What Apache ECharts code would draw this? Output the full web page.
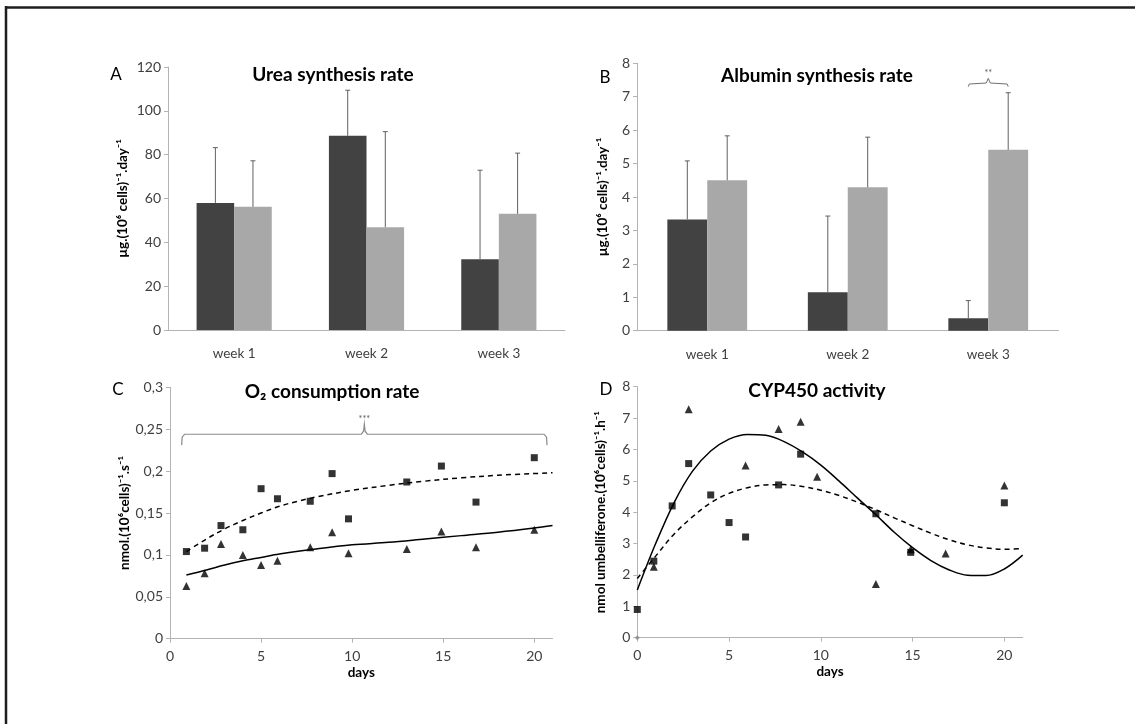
<!DOCTYPE html>
<html><head><meta charset="utf-8">
<script src="https://cdn.jsdelivr.net/npm/echarts@6/dist/echarts.min.js"></script>
<style>html,body{margin:0;padding:0;background:#fff}#c{width:1135px;height:724px}</style>
</head><body><div id="c"></div>
<script>
// ---------- data ----------
const weeks = ['week 1', 'week 2', 'week 3'];
// Urea (µg/10^6 cells/day)
const ureaDark = [58, 88.6, 32.3];
const ureaDarkSD = [25.2, 20.8, 40.6];
const ureaLight = [56.2, 46.9, 53];
const ureaLightSD = [21, 43.6, 27.7];
// Albumin
const albDark = [3.33, 1.15, 0.37];
const albDarkSD = [1.75, 2.28, 0.53];
const albLight = [4.5, 4.29, 5.41];
const albLightSD = [1.33, 1.5, 1.71];
// O2 consumption
const daysC = [0.9, 1.9, 2.8, 4, 5, 5.9, 7.7, 8.9, 9.8, 13, 14.9, 16.8, 20];
const o2Square = [0.104, 0.108, 0.135, 0.130, 0.179, 0.167, 0.164, 0.197, 0.143, 0.187, 0.206, 0.163, 0.216];
const o2Triangle = [0.063, 0.078, 0.113, 0.100, 0.088, 0.093, 0.109, 0.127, 0.102, 0.107, 0.128, 0.109, 0.130];
const o2FitDashedX = [0.9, 2, 3, 4, 5, 6, 7, 8, 10, 12, 14, 16, 18, 21];
const o2FitDashedY = [0.104, 0.119, 0.131, 0.141, 0.150, 0.158, 0.164, 0.169, 0.177, 0.183, 0.188, 0.192, 0.195, 0.198];
const o2FitSolidX = [0.9, 2, 3, 4, 5, 6, 8, 10, 12, 14, 16, 18, 20, 21];
const o2FitSolidY = [0.076, 0.082, 0.088, 0.093, 0.097, 0.101, 0.107, 0.112, 0.115, 0.119, 0.123, 0.127, 0.132, 0.135];
// CYP450
const daysDSquare = [0, 0.9, 1.9, 2.8, 4, 5, 5.9, 7.7, 8.9, 13, 14.9, 20];
const cypSquare = [0.90, 2.44, 4.20, 5.55, 4.55, 3.67, 3.21, 4.87, 5.85, 3.95, 2.72, 4.3];
const daysDTriangle = [0.9, 2.8, 5.9, 7.7, 8.9, 9.8, 13, 14.9, 16.8, 20];
const cypTriangle = [2.26, 7.28, 5.49, 6.65, 6.88, 5.13, 1.71, 2.82, 2.68, 4.85];
const cypFitX = [0, 1, 2, 3, 4, 5, 6, 7, 8, 9, 10, 11, 12, 13, 14, 15, 16, 17, 18, 19, 20, 21];
const cypFitSolidY = [1.52, 3.0, 4.3, 5.3, 5.95, 6.33, 6.48, 6.45, 6.25, 5.92, 5.5, 4.99, 4.45, 3.92, 3.36, 2.87, 2.46, 2.16, 1.99, 1.98, 2.19, 2.63];
const cypFitDashedY = [1.89, 2.6, 3.3, 3.85, 4.3, 4.6, 4.78, 4.87, 4.88, 4.82, 4.7, 4.53, 4.32, 4.08, 3.82, 3.57, 3.33, 3.12, 2.96, 2.86, 2.82, 2.84];
const cypOrigin = [[0, 0]];
const dayTicks = [0, 5, 10, 15, 20];

// ---------- helpers ----------
const FONT = 'Lato, "Open Sans", sans-serif';
const AX = '#b3b3b3';
const LBL = '#404040';
const zip = (xs, ys) => xs.map((x, i) => [x, ys[i]]);
const errData = (vals, sds) => vals.map((v, i) => [i, v, v + sds[i]]);
const BAR_FRAC = 0.284;

function errRender(side) {
  return function (params, api) {
    const cat = api.value(0), v = api.value(1), top = api.value(2);
    const bw = api.size([1, 0])[0];
    const p0 = api.coord([cat, v]);
    const p1 = api.coord([cat, top]);
    const x = p0[0] + side * bw * BAR_FRAC / 2;
    const st = { stroke: '#606060', lineWidth: 1 };
    return { type: 'group', children: [
      { type: 'line', shape: { x1: x, y1: p0[1], x2: x, y2: p1[1] }, style: st },
      { type: 'line', shape: { x1: x - 2.5, y1: p1[1], x2: x + 2.5, y2: p1[1] }, style: st }
    ]};
  };
}

function yAxisCfg(grid, min, max, interval, name, gap, fmt) {
  return {
    type: 'value', gridIndex: grid, min, max, interval,
    name, nameLocation: 'middle', nameGap: gap, nameRotate: 90,
    nameTextStyle: { fontFamily: FONT, fontWeight: 'bold', fontSize: 13.5, color: '#000' },
    axisLine: { show: true, lineStyle: { color: AX } },
    axisTick: { show: true, length: 4, lineStyle: { color: AX } },
    axisLabel: { fontFamily: FONT, fontSize: 14, color: LBL, margin: 7, formatter: fmt },
    splitLine: { show: false }
  };
}
function catAxisCfg(grid) {
  return {
    type: 'category', gridIndex: grid, data: weeks,
    axisLine: { lineStyle: { color: AX } },
    axisTick: { length: 5, lineStyle: { color: AX } },
    axisLabel: { fontFamily: FONT, fontSize: 13.5, color: LBL, margin: 17 }
  };
}
function dayAxisCfg(grid) {
  return {
    type: 'value', gridIndex: grid, min: 0, max: 21, interval: 5,
    name: 'days', nameLocation: 'middle', nameGap: 27,
    nameTextStyle: { fontFamily: FONT, fontWeight: 'bold', fontSize: 13.5, color: '#000' },
    axisLine: { lineStyle: { color: AX } },
    axisTick: { length: 4, customValues: dayTicks, lineStyle: { color: AX } },
    axisLabel: { fontFamily: FONT, fontSize: 14, color: LBL, margin: 11, customValues: dayTicks },
    splitLine: { show: false }
  };
}
const comma = v => String(+v.toFixed(2)).replace('.', ',');

const title = (text, x, y) => ({ type: 'text', x, y, style: { text, fill: '#000', font: 'bold 19px ' + FONT, align: 'center', verticalAlign: 'middle', textAlign: 'center', textVerticalAlign: 'middle' } });
const letter = (text, x, y) => ({ type: 'text', x, y, style: { text, fill: '#000', font: '17px ' + FONT, align: 'center', verticalAlign: 'middle', textAlign: 'center', textVerticalAlign: 'middle' } });

const chart = echarts.init(document.getElementById('c'), null, { renderer: 'canvas' });
chart.setOption({
  backgroundColor: '#fff',
  animation: false,
  grid: [
    { left: 168, top: 67, width: 397, height: 263 },
    { left: 637, top: 63.3, width: 421.5, height: 267.4 },
    { left: 170, top: 387.3, width: 382.5, height: 251.4 },
    { left: 637.3, top: 386.7, width: 385.4, height: 251 }
  ],
  xAxis: [catAxisCfg(0), catAxisCfg(1), dayAxisCfg(2), dayAxisCfg(3)],
  yAxis: [
    yAxisCfg(0, 0, 120, 20, 'µg.(10⁶ cells)⁻¹.day⁻¹', 38),
    yAxisCfg(1, 0, 8, 1, 'µg.(10⁶ cells)⁻¹.day⁻¹', 27),
    yAxisCfg(2, 0, 0.3, 0.05, 'nmol.(10⁶cells)⁻¹.s⁻¹', 37, comma),
    yAxisCfg(3, 0, 8, 1, 'nmol umbelliferone.(10⁶cells)⁻¹.h⁻¹', 30)
  ],
  graphic: [
    { type: 'line', shape: { x1: 5, y1: 7.5, x2: 1135, y2: 7.5 }, style: { stroke: '#1e1e1e', lineWidth: 2.5 } },
    { type: 'line', shape: { x1: 6, y1: 6, x2: 6, y2: 724 }, style: { stroke: '#1e1e1e', lineWidth: 2.5 } },
    title('Urea synthesis rate', 333, 75),
    title('Albumin synthesis rate', 817, 76),
    title('O₂ consumption rate', 332, 392),
    title('CYP450 activity', 817, 391),
    letter('A', 116, 75),
    letter('B', 605, 78),
    letter('C', 118, 390),
    letter('D', 606, 390)
  ],
  series: [
    // Panel A
    { type: 'bar', xAxisIndex: 0, yAxisIndex: 0, data: ureaDark, barWidth: (BAR_FRAC * 100) + '%', barGap: '0%', itemStyle: { color: '#424242' } },
    { type: 'bar', xAxisIndex: 0, yAxisIndex: 0, data: ureaLight, barWidth: (BAR_FRAC * 100) + '%', barGap: '0%', itemStyle: { color: '#a8a8a8' } },
    { type: 'custom', xAxisIndex: 0, yAxisIndex: 0, z: 5, renderItem: errRender(-1), data: errData(ureaDark, ureaDarkSD) },
    { type: 'custom', xAxisIndex: 0, yAxisIndex: 0, z: 5, renderItem: errRender(1), data: errData(ureaLight, ureaLightSD) },
    // Panel B
    { type: 'bar', xAxisIndex: 1, yAxisIndex: 1, data: albDark, barWidth: (BAR_FRAC * 100) + '%', barGap: '0%', itemStyle: { color: '#424242' } },
    { type: 'bar', xAxisIndex: 1, yAxisIndex: 1, data: albLight, barWidth: (BAR_FRAC * 100) + '%', barGap: '0%', itemStyle: { color: '#a8a8a8' } },
    { type: 'custom', xAxisIndex: 1, yAxisIndex: 1, z: 5, renderItem: errRender(-1), data: errData(albDark, albDarkSD) },
    { type: 'custom', xAxisIndex: 1, yAxisIndex: 1, z: 5, renderItem: errRender(1), data: errData(albLight, albLightSD) },
    // significance bracket B
    { type: 'custom', xAxisIndex: 1, yAxisIndex: 1, z: 6, data: [[2, 7.3, 7.41, 7.55]],
      renderItem(params, api) {
        const bw = api.size([1, 0])[0];
        const c = api.coord([api.value(0), api.value(2)]);
        const yEnd = api.coord([api.value(0), api.value(1)])[1];
        const yPk = api.coord([api.value(0), api.value(3)])[1];
        const x0 = c[0] - bw * BAR_FRAC / 2, x1 = c[0] + bw * BAR_FRAC / 2, y = c[1];
        return { type: 'group', children: [
          { type: 'polyline', shape: { points: [[x0, yEnd], [x0 + 1, y + 1], [c[0] - 2, y], [c[0], yPk], [c[0] + 2, y], [x1 - 1, y + 1], [x1, yEnd]] }, style: { stroke: '#707070', lineWidth: 1, fill: null } },
          { type: 'text', x: c[0], y: yPk - 1, style: { text: '**', fill: '#555', font: '9px ' + FONT, align: 'center', verticalAlign: 'bottom', textAlign: 'center', textVerticalAlign: 'bottom' } }
        ]};
      } },
    // Panel C
    { type: 'line', xAxisIndex: 2, yAxisIndex: 2, data: zip(o2FitDashedX, o2FitDashedY), smooth: 0.35, showSymbol: false, lineStyle: { color: '#000', width: 1.5, type: [5, 4] } },
    { type: 'line', xAxisIndex: 2, yAxisIndex: 2, data: zip(o2FitSolidX, o2FitSolidY), smooth: 0.35, showSymbol: false, lineStyle: { color: '#000', width: 1.5 } },
    { type: 'scatter', xAxisIndex: 2, yAxisIndex: 2, data: zip(daysC, o2Square), symbol: 'rect', symbolSize: 7, itemStyle: { color: '#000' }, z: 4 },
    { type: 'scatter', xAxisIndex: 2, yAxisIndex: 2, data: zip(daysC, o2Triangle), symbol: 'triangle', symbolSize: 8, itemStyle: { color: '#000' }, z: 4 },
    { type: 'custom', xAxisIndex: 2, yAxisIndex: 2, z: 6, data: [[0.64, 20.7, 0.231, 0.244, 0.256, 10.67]],
      renderItem(params, api) {
        const a = api.coord([api.value(0), api.value(3)]);
        const b = api.coord([api.value(1), api.value(3)]);
        const yEnd = api.coord([0, api.value(2)])[1];
        const pk = api.coord([api.value(5), api.value(4)]);
        const y = a[1];
        return { type: 'group', children: [
          { type: 'polyline', shape: { points: [[a[0], yEnd], [a[0] + 0.5, y + 3], [a[0] + 3, y], [pk[0] - 3, y], [pk[0] - 0.8, y - 3], [pk[0], pk[1]], [pk[0] + 0.8, y - 3], [pk[0] + 3, y], [b[0] - 3, y], [b[0] - 0.5, y + 3], [b[0], yEnd]] }, style: { stroke: '#8a8a8a', lineWidth: 1.2, fill: null } },
          { type: 'text', x: pk[0], y: pk[1] - 1, style: { text: '***', fill: '#555', font: '9px ' + FONT, align: 'center', verticalAlign: 'bottom', textAlign: 'center', textVerticalAlign: 'bottom' } }
        ]};
      } },
    // Panel D
    { type: 'line', xAxisIndex: 3, yAxisIndex: 3, data: zip(cypFitX, cypFitDashedY), smooth: 0.35, showSymbol: false, lineStyle: { color: '#000', width: 1.5, type: [5, 4] } },
    { type: 'line', xAxisIndex: 3, yAxisIndex: 3, data: zip(cypFitX, cypFitSolidY), smooth: 0.35, showSymbol: false, lineStyle: { color: '#000', width: 1.5 } },
    { type: 'scatter', xAxisIndex: 3, yAxisIndex: 3, data: zip(daysDSquare, cypSquare), symbol: 'rect', symbolSize: 7, itemStyle: { color: '#000' }, z: 4 },
    { type: 'scatter', xAxisIndex: 3, yAxisIndex: 3, data: zip(daysDTriangle, cypTriangle), symbol: 'triangle', symbolSize: 8, itemStyle: { color: '#000' }, z: 4 },
    { type: 'scatter', xAxisIndex: 3, yAxisIndex: 3, data: cypOrigin, symbol: 'diamond', symbolSize: 5, itemStyle: { color: '#888' }, z: 4 }
  ]
});
</script>
</body></html>
